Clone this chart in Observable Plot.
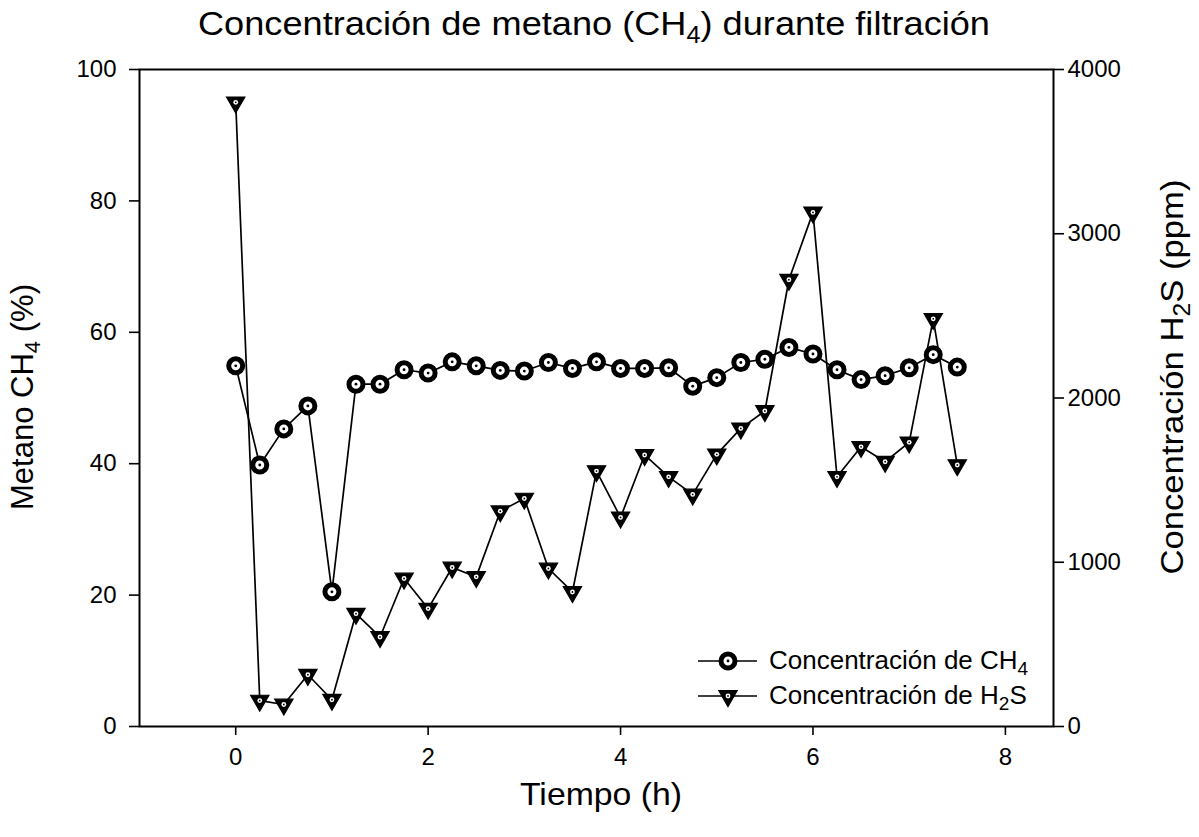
<!DOCTYPE html>
<html>
<head>
<meta charset="utf-8">
<script src="https://cdn.jsdelivr.net/npm/d3@7"></script>
<script src="https://cdn.jsdelivr.net/npm/@observablehq/plot@0.6"></script>
<style>
  body { margin: 0; background: #fff; }
  #chart { width: 1199px; height: 837px; }
</style>
</head>
<body>
<div id="chart"></div>
<script>
// ---- data ----
const time = [0, 0.25, 0.5, 0.75, 1, 1.25, 1.5, 1.75, 2, 2.25, 2.5, 2.75, 3, 3.25, 3.5, 3.75,
              4, 4.25, 4.5, 4.75, 5, 5.25, 5.5, 5.75, 6, 6.25, 6.5, 6.75, 7, 7.25, 7.5];
const ch4 = [54.9, 39.8, 45.3, 48.8, 20.5, 52.1, 52.1, 54.3, 53.8, 55.5, 54.9, 54.2, 54.1, 55.4, 54.5, 55.5,
             54.5, 54.5, 54.6, 51.8, 53.1, 55.4, 55.9, 57.7, 56.7, 54.3, 52.8, 53.4, 54.6, 56.6, 54.7];
const h2s = [3800, 158, 134, 315, 163, 687, 545, 901, 718, 968, 911, 1311, 1388, 962, 819, 1555,
             1273, 1653, 1520, 1413, 1657, 1815, 1921, 2720, 3130, 1520, 1703, 1612, 1730, 2482, 1592];
const xTicks = [0, 2, 4, 6, 8];
const leftTicks = [0, 20, 40, 60, 80, 100];
const rightTicks = [0, 1000, 2000, 3000, 4000];
const xDomain = [-1, 8.5];
const leftDomain = [0, 100];
const rightDomain = [0, 4000];

const titleParts = [["Concentración de metano (CH", false], ["4", true], [") durante filtración", false]];
const xLabelParts = [["Tiempo (h)", false]];
const leftLabelParts = [["Metano CH", false], ["4", true], [" (%)", false]];
const rightLabelParts = [["Concentración H", false], ["2", true], ["S (ppm)", false]];
const legendCH4 = [["Concentración de CH", false], ["4", true]];
const legendH2S = [["Concentración de H", false], ["2", true], ["S", false]];

// ---- build ----
const FONT = "'Liberation Sans', Arial, Helvetica, sans-serif";
const h2sToY = d3.scaleLinear(rightDomain, leftDomain);
const rows = time.map((t, i) => ({t, ch4: ch4[i], h2s: h2s[i], h2sY: h2sToY(h2s[i])}));

const triDown = {
  draw(ctx, size) {
    const y = Math.sqrt(size / (Math.sqrt(3) * 3));
    ctx.moveTo(0, 2 * y);
    ctx.lineTo(-Math.sqrt(3) * y, -y);
    ctx.lineTo(Math.sqrt(3) * y, -y);
    ctx.closePath();
  }
};

const circR = 7, circSW = 5, triR = 6.8;

const plot = Plot.plot({
  width: 1199, height: 837,
  marginLeft: 139, marginRight: 146, marginTop: 69, marginBottom: 111,
  style: {fontFamily: FONT, fontSize: "24px", color: "#000", background: "#fff", overflow: "visible"},
  x: {domain: xDomain},
  y: {domain: leftDomain},
  marks: [
    Plot.axisX({ticks: xTicks, tickSize: 9, tickPadding: 12, label: null, strokeWidth: 1.6, fontSize: 24}),
    Plot.axisY({anchor: "left", ticks: leftTicks, tickSize: 10, tickPadding: 13, label: null, strokeWidth: 1.6, fontSize: 24}),
    Plot.axisY({anchor: "right", ticks: rightTicks.map(h2sToY), tickFormat: d => String(Math.round(h2sToY.invert(d))),
                tickSize: 10, tickPadding: 4, label: null, strokeWidth: 1.6, fontSize: 24}),
    Plot.line(rows, {x: "t", y: "h2sY", stroke: "#000", strokeWidth: 1.7}),
    Plot.line(rows, {x: "t", y: "ch4", stroke: "#000", strokeWidth: 1.7}),
    Plot.dot(rows, {x: "t", y: "ch4", r: circR, fill: "#fff", stroke: "#000", strokeWidth: circSW}),
    Plot.dot(rows, {x: "t", y: "ch4", r: 1.4, fill: "#000", stroke: null}),
    Plot.dot(rows, {x: "t", y: "h2sY", symbol: triDown, r: triR, fill: "#000", stroke: "#000", strokeWidth: 1.2}),
    Plot.dot(rows, {x: "t", y: "h2sY", r: 2.4, fill: "#fff", stroke: null}),
    Plot.dot(rows, {x: "t", y: "h2sY", r: 0.9, fill: "#000", stroke: null}),
    Plot.frame({stroke: "#000", strokeWidth: 2})
  ]
});

document.getElementById("chart").appendChild(plot);
const svg = d3.select(plot);

function addText(parts, {x, y, size, subSize, subShift, rotate = 0, anchor = "middle", length = null}) {
  const t = svg.append("text")
    .attr("transform", `translate(${x},${y}) rotate(${rotate})`)
    .attr("text-anchor", anchor)
    .attr("font-family", FONT)
    .attr("font-size", size)
    .attr("fill", "#000");
  let prevSub = false;
  parts.forEach(([s, sub]) => {
    const ts = t.append("tspan").text(s);
    if (sub) { ts.attr("font-size", subSize).attr("dy", subShift); }
    else if (prevSub) { ts.attr("dy", -subShift); }
    prevSub = sub;
  });
  if (length) t.attr("textLength", length).attr("lengthAdjust", "spacingAndGlyphs");
  return t;
}

// title and axis titles
addText(titleParts, {x: 594, y: 35, size: 33, subSize: 23, subShift: 8, length: 792});
addText(xLabelParts, {x: 601, y: 805, size: 32, length: 162});
addText(leftLabelParts, {x: 33, y: 397, size: 31, subSize: 22, subShift: 7, rotate: -90, length: 226});
addText(rightLabelParts, {x: 1183, y: 377, size: 32, subSize: 23, subShift: 7, rotate: -90, length: 395});

// legend
const legend = svg.append("g");
const legendRows = [
  {y: 661, parts: legendCH4, kind: "circle"},
  {y: 696, parts: legendH2S, kind: "tri"}
];
legendRows.forEach(r => {
  legend.append("line").attr("x1", 698).attr("x2", 757).attr("y1", r.y).attr("y2", r.y)
    .attr("stroke", "#000").attr("stroke-width", 1.7);
  if (r.kind === "circle") {
    legend.append("circle").attr("cx", 728).attr("cy", r.y).attr("r", circR)
      .attr("fill", "#fff").attr("stroke", "#000").attr("stroke-width", circSW);
    legend.append("circle").attr("cx", 728).attr("cy", r.y).attr("r", 1.4).attr("fill", "#000");
  } else {
    const p = d3.symbol(triDown, triR * triR * Math.PI)();
    legend.append("path").attr("d", p).attr("transform", `translate(728,${r.y})`)
      .attr("fill", "#000").attr("stroke", "#000").attr("stroke-width", 1.2);
    legend.append("circle").attr("cx", 728).attr("cy", r.y).attr("r", 2.4).attr("fill", "#fff");
    legend.append("circle").attr("cx", 728).attr("cy", r.y).attr("r", 0.9).attr("fill", "#000");
  }
  addText(r.parts, {x: 769, y: r.y + 8, size: 26, subSize: 19, subShift: 6, anchor: "start"});
});
</script>
</body>
</html>
